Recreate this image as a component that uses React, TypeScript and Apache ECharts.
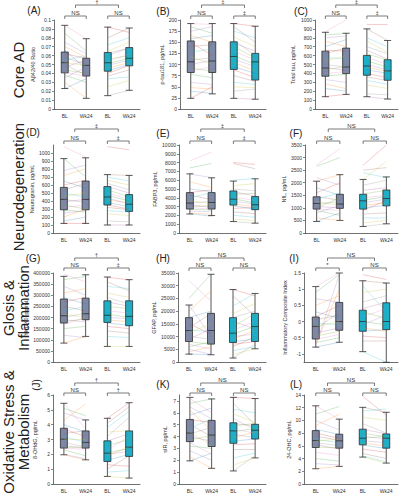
import React, { useEffect, useRef } from 'react';
import * as echarts from 'echarts';

const xLabels = ['BL', 'Wk24', 'BL', 'Wk24'];
const xCats = ['g-BL', 'g-Wk24', 't-BL', 't-Wk24'];
const panelLetters = ['(A)', '(B)', '(C)', '(D)', '(E)', '(F)', '(G)', '(H)', '(I)', '(J)', '(K)', '(L)'];
const yNames = [
  'Aβ42/40 Ratio', 'p-tau181, pg/mL', 'Total tau, pg/mL',
  'Neurogranin, pg/mL', 'FABP3, pg/mL', 'NfL, pg/mL',
  'YKL-40, pg/mL', 'GFAP, pg/mL', 'Inflammatory Composite Index',
  '8-OHdG, pg/mL', 'sIR, pg/mL', '24-OHC, pg/mL',
];
const groupTitles = ['Core AD', 'Neurodegeneration', 'Glosis &\nInflammation', 'Oxidative Stress &\nMetabolism'];
const sigOuter = ['†', '‡', '‡', '‡', '‡', 'NS', '†', 'NS', 'NS', '†', 'NS', 'NS'];
const sigGray = ['NS', 'NS', 'NS', 'NS', 'NS', 'NS', 'NS', 'NS', '*', 'NS', 'NS', 'NS'];
const sigTeal = ['NS', '‡', '‡', '‡', '‡', 'NS', '‡', 'NS', 'NS', '†', 'NS', 'NS'];

// y-axis ranges: [min, max, step]
const yRanges = [
  [0, 0.1, 0.01], [0, 200, 25], [0, 1000, 100],
  [0, 1100, 100], [0, 10000, 1000], [0, 3500, 500],
  [0, 400000, 50000], [0, 35000, 5000], [-1.25, 1.5, 0.5],
  [0, 6, 1], [0, 7.5, 1], [0, 14, 2],
];
const yTickValues = [
  null, null, null,
  [0, 100, 200, 300, 400, 500, 600, 700, 800, 900, 1000], null, null,
  null, null, [-1, -0.5, 0, 0.5, 1, 1.5],
  null, [0, 1, 2, 3, 4, 5, 6, 7], null,
];

// Box stats: [min, q1, median, q3, max] for gray BL, gray Wk24, teal BL, teal Wk24
const aBox = [[0.023, 0.0406, 0.052, 0.064, 0.094], [0.012, 0.037, 0.049, 0.057, 0.079], [0.015, 0.0425, 0.052, 0.0635, 0.092], [0.021, 0.0485, 0.057, 0.069, 0.091]];
const bBox = [[24, 82, 106, 153, 192], [34, 82, 108, 151, 192], [24, 89, 118, 151, 192], [22, 65, 106, 125, 186]];
const cBox = [[138, 368, 461, 650, 862], [164, 398, 472, 684, 851], [138, 379, 483, 602, 900], [112, 323, 428, 554, 770]];
const dBox = [[120, 290, 420, 570, 930], [120, 290, 420, 650, 940], [100, 350, 450, 580, 730], [100, 270, 360, 480, 720]];
const eBox = [[2160, 2720, 3400, 4590, 6720], [1980, 2720, 3470, 4590, 6270], [1300, 3170, 3840, 4780, 5900], [1120, 2650, 3210, 4140, 6160]];
const fBox = [[460, 950, 1175, 1440, 2060], [500, 980, 1150, 1540, 2320], [260, 950, 1280, 1540, 2130], [365, 1080, 1370, 1710, 2230]];
const gBox = [[85000, 175000, 208000, 283000, 385000], [115000, 190000, 217000, 287000, 392000], [70000, 178000, 210000, 275000, 382000], [70000, 163000, 205000, 275000, 370000]];
const hBox = [[3100, 8070, 12370, 17450, 22400], [2860, 7030, 12370, 19140, 34500], [1560, 7680, 11330, 17450, 28500], [5200, 8070, 13930, 19140, 26950]];
const iBox = [[-0.79, -0.54, -0.15, 0.14, 1.08], [-0.64, -0.27, 0.0, 0.59, 1.5], [-0.93, -0.3, 0.0, 0.35, 1.26], [-1.26, -0.25, 0.0, 0.58, 1.19]];
const jBox = [[1.97, 2.42, 3.02, 3.76, 5.44], [1.63, 2.42, 2.8, 3.58, 4.32], [0.51, 1.52, 2.08, 2.91, 4.43], [0.4, 1.86, 2.48, 3.58, 5.48]];
const kBox = [[1.95, 3.57, 4.29, 5.44, 7.3], [1.32, 3.16, 4.12, 5.36, 7.17], [1.1, 3.43, 4.48, 5.16, 7.3], [2.2, 3.79, 4.53, 5.03, 7.2]];
const lBox = [[2.4, 5.74, 6.84, 8.4, 12.3], [2.77, 5.64, 6.79, 7.83, 10.2], [4.23, 6.16, 7.2, 8.62, 12.06], [3.29, 5.64, 7.2, 7.88, 11.28]];

// Individual subject values (BL -> Wk24), gray and teal groups
const aGrayBL = [0.094, 0.085, 0.075, 0.07, 0.066, 0.062, 0.058, 0.055, 0.052, 0.05, 0.047, 0.044, 0.041, 0.038, 0.035, 0.03, 0.023];
const aGrayWk = [0.079, 0.065, 0.062, 0.058, 0.045, 0.057, 0.05, 0.06, 0.049, 0.038, 0.055, 0.04, 0.037, 0.03, 0.047, 0.012, 0.034];
const aTealBL = [0.092, 0.08, 0.072, 0.065, 0.063, 0.06, 0.056, 0.053, 0.051, 0.049, 0.046, 0.043, 0.04, 0.037, 0.034, 0.025, 0.015];
const aTealWk = [0.086, 0.091, 0.08, 0.075, 0.068, 0.069, 0.06, 0.062, 0.057, 0.055, 0.052, 0.05, 0.049, 0.044, 0.036, 0.032, 0.021];

const bGrayBL = [192, 185, 175, 165, 158, 150, 140, 128, 118, 110, 100, 92, 85, 78, 60, 48, 40, 24];
const bGrayWk = [190, 170, 185, 150, 165, 120, 145, 135, 100, 115, 110, 85, 95, 70, 55, 45, 35, 50];
const bTealBL = [192, 185, 175, 162, 155, 148, 140, 130, 120, 112, 105, 95, 88, 75, 60, 50, 40, 24];
const bTealWk = [186, 150, 160, 140, 120, 130, 115, 110, 100, 95, 85, 80, 70, 62, 55, 48, 45, 22];

const cGrayBL = [870, 830, 800, 760, 700, 660, 620, 580, 540, 500, 470, 440, 400, 370, 330, 280, 230, 140];
const cGrayWk = [1000, 850, 820, 700, 780, 650, 690, 560, 600, 470, 430, 480, 420, 390, 300, 230, 200, 164];
const cTealBL = [950, 900, 800, 760, 700, 660, 620, 580, 540, 500, 470, 440, 400, 360, 320, 270, 170, 138];
const cTealWk = [950, 770, 700, 640, 620, 560, 550, 500, 470, 440, 420, 400, 350, 320, 280, 230, 160, 112];

const dGrayBL = [1080, 930, 780, 720, 650, 600, 540, 500, 460, 420, 390, 350, 320, 290, 250, 200, 150, 120];
const dGrayWk = [950, 700, 850, 800, 560, 660, 620, 450, 500, 380, 420, 300, 350, 260, 280, 300, 200, 120];
const dTealBL = [1080, 730, 700, 660, 620, 580, 540, 500, 470, 440, 410, 380, 350, 320, 280, 240, 150, 100];
const dTealWk = [1040, 720, 650, 600, 540, 500, 450, 420, 400, 360, 380, 330, 300, 290, 260, 220, 140, 100];

const eGrayBL = [8200, 7400, 6700, 5800, 5000, 4600, 4300, 4000, 3700, 3400, 3200, 3000, 2900, 2700, 2500, 2300, 2200];
const eGrayWk = [9200, 7900, 6300, 5200, 4700, 4900, 3800, 4600, 3300, 3600, 2900, 3100, 2700, 2600, 2400, 2100, 1900];
const eTealBL = [8000, 7900, 6000, 5400, 5000, 4700, 4400, 4100, 3900, 3600, 3300, 3100, 2800, 2400, 2000, 1600, 1300];
const eTealWk = [7800, 7300, 6200, 5600, 4800, 4200, 4500, 3700, 3400, 3300, 3000, 2700, 2900, 2200, 1800, 1400, 1100];

const fGrayBL = [2700, 2650, 2200, 2060, 1800, 1600, 1450, 1350, 1250, 1150, 1050, 1000, 950, 900, 800, 600, 460];
const fGrayWk = [3350, 3000, 1900, 2320, 1500, 2000, 1300, 1600, 1100, 1250, 1000, 1400, 900, 700, 1100, 500, 800];
const fTealBL = [2700, 2500, 2400, 2130, 1900, 1700, 1550, 1400, 1300, 1200, 1100, 1000, 900, 750, 600, 400, 260];
const fTealWk = [3500, 2600, 2200, 2850, 2100, 1800, 1700, 1500, 1450, 1350, 1200, 1100, 1300, 800, 600, 500, 365];

const gGrayBL = [395000, 370000, 340000, 310000, 290000, 270000, 250000, 230000, 215000, 200000, 190000, 180000, 170000, 150000, 120000, 85000];
const gGrayWk = [360000, 385000, 300000, 330000, 260000, 290000, 230000, 250000, 200000, 220000, 180000, 195000, 200000, 160000, 110000, 115000];
const gTealBL = [380000, 360000, 340000, 310000, 290000, 270000, 250000, 230000, 215000, 200000, 190000, 175000, 160000, 140000, 115000, 70000];
const gTealWk = [370000, 320000, 330000, 290000, 260000, 250000, 240000, 220000, 200000, 195000, 180000, 165000, 150000, 130000, 110000, 70000];

const hGrayBL = [32000, 25000, 22400, 20000, 17500, 15000, 13500, 12500, 11500, 10000, 9000, 8000, 7000, 6000, 5000, 4000, 3100];
const hGrayWk = [24000, 34500, 10000, 28000, 20000, 11000, 19000, 12000, 15000, 9000, 13000, 7000, 5000, 8000, 3000, 6000, 2900];
const hTealBL = [28500, 26000, 22000, 19000, 17500, 16000, 14000, 12500, 11000, 10000, 9000, 8000, 7000, 6000, 4500, 3000, 1600];
const hTealWk = [26000, 18000, 27000, 23000, 20000, 13000, 19000, 16000, 14000, 11000, 12500, 9000, 8000, 10000, 6000, 5200, 7000];

const iGrayBL = [1.08, 0.9, 0.7, 0.5, 0.3, 0.15, 0.05, -0.05, -0.15, -0.25, -0.35, -0.45, -0.55, -0.65, -0.75, -0.7, -0.79];
const iGrayWk = [1.5, 1.45, 0.6, 0.8, 0.1, 0.5, 0.2, -0.1, 0.0, 0.3, -0.2, -0.3, -0.4, -0.5, 1.45, 1.0, -0.64];
const iTealBL = [1.45, 1.26, 1.1, 0.9, 0.6, 0.4, 0.3, 0.15, 0.0, -0.1, -0.2, -0.3, -0.45, -0.6, -0.93];
const iTealWk = [1.3, 1.19, 0.3, 1.0, 0.8, 0.6, 0.1, 0.4, -0.1, 0.2, -0.3, -0.25, -0.5, -0.6, -1.26];

const jGrayBL = [5.44, 5.1, 4.8, 4.3, 4.0, 3.7, 3.4, 3.2, 3.0, 2.8, 2.6, 2.45, 2.4, 2.3, 2.0, 1.97];
const jGrayWk = [3.7, 4.6, 4.3, 5.4, 3.5, 3.2, 3.6, 2.8, 3.0, 2.5, 2.4, 2.5, 2.35, 1.9, 1.7, 1.63];
const jTealBL = [4.43, 4.1, 3.8, 3.5, 3.2, 2.9, 2.6, 2.3, 2.1, 2.0, 1.9, 1.6, 1.3, 1.0, 0.8, 0.51];
const jTealWk = [5.48, 5.2, 4.9, 3.6, 4.5, 3.4, 3.0, 3.2, 2.4, 2.2, 2.5, 2.0, 1.2, 1.9, 0.9, 0.4];

const kGrayBL = [7.2, 6.8, 6.5, 6.2, 5.8, 5.4, 5.0, 4.7, 4.4, 4.2, 4.0, 3.7, 3.5, 3.2, 2.8, 2.3, 1.95];
const kGrayWk = [6.0, 7.17, 5.5, 4.5, 6.4, 5.2, 4.0, 5.5, 3.2, 4.8, 3.6, 4.1, 2.5, 3.0, 2.0, 1.32, 2.6];
const kTealBL = [7.3, 6.8, 6.3, 5.9, 5.5, 5.1, 4.9, 4.6, 4.4, 4.2, 3.9, 3.6, 3.3, 2.9, 2.2, 1.6, 1.1];
const kTealWk = [7.2, 5.0, 6.0, 5.2, 4.6, 4.9, 5.1, 4.3, 4.7, 3.9, 4.4, 3.8, 3.4, 2.9, 2.6, 2.2, 2.4];

const lGrayBL = [12.3, 11.0, 10.0, 9.2, 8.6, 8.0, 7.5, 7.0, 6.8, 6.5, 6.2, 5.8, 5.0, 4.0, 3.2, 2.4];
const lGrayWk = [10.2, 12.2, 8.5, 11.0, 7.8, 7.2, 6.9, 6.5, 7.0, 6.0, 5.5, 5.7, 4.5, 3.6, 3.0, 2.8];
const lTealBL = [13.8, 12.06, 11.5, 10.5, 9.5, 8.6, 8.0, 7.6, 7.2, 6.8, 6.4, 6.1, 5.5, 4.8, 4.4, 4.23];
const lTealWk = [10.8, 11.28, 11.8, 10.0, 8.0, 7.9, 7.4, 7.0, 7.5, 6.5, 6.0, 5.6, 5.0, 4.0, 3.5, 3.29];

const boxes = [aBox, bBox, cBox, dBox, eBox, fBox, gBox, hBox, iBox, jBox, kBox, lBox];
const subjects = [
  [aGrayBL, aGrayWk, aTealBL, aTealWk], [bGrayBL, bGrayWk, bTealBL, bTealWk], [cGrayBL, cGrayWk, cTealBL, cTealWk],
  [dGrayBL, dGrayWk, dTealBL, dTealWk], [eGrayBL, eGrayWk, eTealBL, eTealWk], [fGrayBL, fGrayWk, fTealBL, fTealWk],
  [gGrayBL, gGrayWk, gTealBL, gTealWk], [hGrayBL, hGrayWk, hTealBL, hTealWk], [iGrayBL, iGrayWk, iTealBL, iTealWk],
  [jGrayBL, jGrayWk, jTealBL, jTealWk], [kGrayBL, kGrayWk, kTealBL, kTealWk], [lGrayBL, lGrayWk, lTealBL, lTealWk],
];

// ---- layout / style ----
const W = 401;
const H = 500;
const FONT = 'Liberation Sans, Arial, Helvetica, sans-serif';
const gridRects = [
  [54, 20, 140, 109], [180, 20, 266, 109], [315, 20, 398, 109],
  [53, 145, 140, 233], [179, 145, 266, 233], [305, 145, 398, 233],
  [53, 273, 140, 362], [178, 273, 266, 362], [304, 273, 398, 362],
  [53, 395, 140, 484], [179, 395, 266, 484], [304, 395, 398, 484],
];
const nameGaps = [18, 15, 19, 15, 15, 15, 21, 15, 14, 15, 11, 11];
const rowBrackets = [[5, 16], [129, 141], [258, 268], [383, 393]];
const letterPos = [
  [34, 10], [163, 11], [301, 11],
  [33, 132], [163, 133], [296, 133],
  [33, 258], [163, 258], [294, 258],
  [36, 385], [163, 384], [296, 384],
];
const groupTitlePos = [[18, 70], [18, 187], [16, 308], [16, 432]];
const GRAY = '#7c88a6';
const TEAL = '#1cb0c8';
const palette = ['#e377c2', '#2ca02c', '#9467bd', '#ff7f0e', '#1f77b4', '#d62728', '#8c564b', '#17becf', '#bcbd22', '#7f7f7f', '#a05195', '#66a61e'];

function fmt(v: number) {
  return String(parseFloat(Number(v).toFixed(4)));
}

function buildOption() {
  const grid: any[] = [];
  const xAxis: any[] = [];
  const yAxis: any[] = [];
  const series: any[] = [];
  const graphic: any[] = [];

  gridRects.forEach((r, p) => {
    const [x0, y0, x1, y1] = r;
    grid.push({ left: x0, top: y0, width: x1 - x0, height: y1 - y0 });
    xAxis.push({
      type: 'category',
      gridIndex: p,
      data: xCats,
      boundaryGap: true,
      axisLine: { onZero: false, lineStyle: { color: '#333', width: 0.7 } },
      axisTick: { length: 2, lineStyle: { color: '#333', width: 0.6 } },
      axisLabel: { fontSize: 5, color: '#333', fontFamily: FONT, margin: 4, formatter: (_v: string, i: number) => xLabels[i] },
      splitLine: { show: false },
    });
    const [mn, mx, step] = yRanges[p];
    const custom = yTickValues[p];
    const ya: any = {
      type: 'value',
      gridIndex: p,
      min: mn,
      max: mx,
      name: yNames[p],
      nameLocation: 'middle',
      nameRotate: 90,
      nameGap: nameGaps[p],
      nameTextStyle: { fontSize: 5.5, color: '#333', fontFamily: FONT },
      axisLine: { show: true, onZero: false, lineStyle: { color: '#333', width: 0.7 } },
      axisTick: { show: true, length: 2, lineStyle: { color: '#333', width: 0.6 } },
      axisLabel: { fontSize: 5, color: '#333', fontFamily: FONT, margin: 3, formatter: (v: number) => fmt(v) },
      splitLine: { show: false },
    };
    if (custom) {
      ya.axisLabel.customValues = custom;
      ya.axisTick.customValues = custom;
    } else {
      ya.interval = step;
    }
    yAxis.push(ya);

    const subj = subjects[p];
    const lineData: any[] = [];
    subj[0].forEach((v, i) => lineData.push({ value: [0, v, 1, subj[1][i]], c: palette[i % palette.length] }));
    subj[2].forEach((v, i) => lineData.push({ value: [2, v, 3, subj[3][i]], c: palette[(i + 5) % palette.length] }));
    const colors = lineData.map((d) => d.c);
    series.push({
      type: 'custom',
      xAxisIndex: p,
      yAxisIndex: p,
      z: 3,
      silent: true,
      encode: { x: [0, 2], y: [1, 3] },
      data: lineData.map((d) => d.value),
      renderItem: (params: any, api: any) => {
        const a = api.coord([api.value(0), api.value(1)]);
        const b = api.coord([api.value(2), api.value(3)]);
        return {
          type: 'line',
          shape: { x1: a[0], y1: a[1], x2: b[0], y2: b[1] },
          style: { stroke: colors[params.dataIndex], lineWidth: 0.55, opacity: 0.45 },
        };
      },
    });
    series.push({
      type: 'boxplot',
      xAxisIndex: p,
      yAxisIndex: p,
      z: 2,
      boxWidth: [7, 7],
      data: boxes[p].map((b, i) => ({
        value: b,
        itemStyle: { color: i < 2 ? GRAY : TEAL, borderColor: '#2b2b2b', borderWidth: 0.8 },
      })),
    });

    // significance brackets
    const cw = (x1 - x0) / 4;
    const c = [0, 1, 2, 3].map((k) => x0 + (k + 0.5) * cw);
    const row = Math.floor(p / 3);
    const [yo, yi] = rowBrackets[row];
    const ls = { stroke: '#444', lineWidth: 0.7, fill: 'none' };
    const bracket = (xa: number, xb: number, y: number, label: string) => {
      graphic.push({ type: 'polyline', silent: true, shape: { points: [[xa, y + 3], [xa, y], [xb, y], [xb, y + 3]] }, style: ls });
      graphic.push({
        type: 'text', silent: true, x: (xa + xb) / 2, y: y - 0.5,
        style: { text: label, fontSize: 6, fontFamily: FONT, fill: '#333', align: 'center', verticalAlign: 'bottom' },
      });
    };
    bracket(c[0], c[1], yi, sigGray[p]);
    bracket(c[2], c[3], yi, sigTeal[p]);
    bracket((c[0] + c[1]) / 2, (c[2] + c[3]) / 2, yo, sigOuter[p]);

    const [lx, ly] = letterPos[p];
    graphic.push({
      type: 'text', silent: true, x: lx, y: ly,
      rotation: p === 9 ? Math.PI / 2 : 0,
      style: { text: panelLetters[p], fontSize: 10, fontFamily: FONT, fill: '#222', align: 'center', verticalAlign: 'middle' },
    });
  });

  groupTitles.forEach((t, i) => {
    const [gx, gy] = groupTitlePos[i];
    graphic.push({
      type: 'text', silent: true, x: gx, y: gy, rotation: Math.PI / 2,
      style: { text: t, fontSize: 15, lineHeight: 15, fontFamily: FONT, fill: '#222', align: 'center', verticalAlign: 'middle' },
    });
  });

  return { animation: false, backgroundColor: '#fff', grid, xAxis, yAxis, series, graphic };
}

export default function App() {
  const ref = useRef<HTMLDivElement>(null);
  useEffect(() => {
    if (!ref.current) return;
    const chart = echarts.init(ref.current, null, { renderer: 'svg' });
    chart.setOption(buildOption() as any);
    return () => chart.dispose();
  }, []);
  return <div ref={ref} style={{ position: 'absolute', left: 0, top: 0, width: W, height: H }} />;
}
